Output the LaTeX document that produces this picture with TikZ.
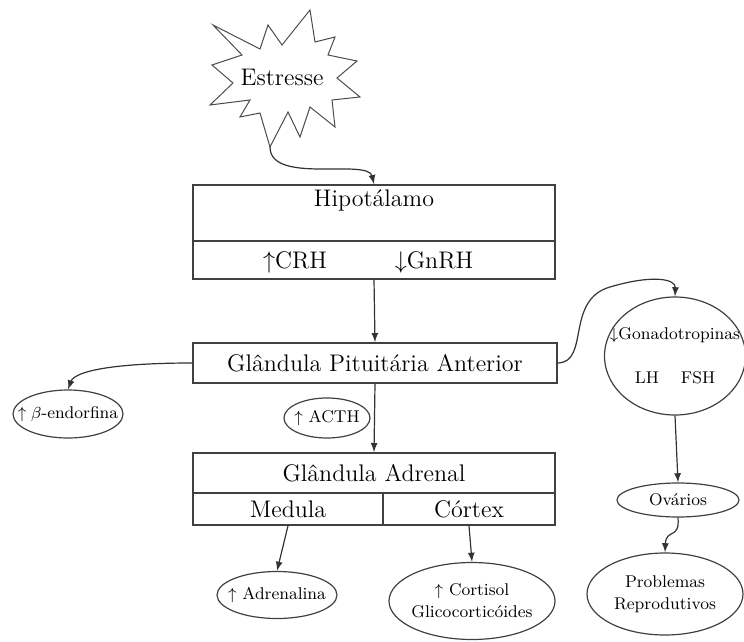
\documentclass[tikz,border=0pt]{standalone}
\usetikzlibrary{shapes.geometric,arrows}
\tikzstyle{box} = [rectangle, draw=black!75, line width=0.8pt, inner sep=0pt, font=\fontsize{12}{14}\selectfont]
\tikzstyle{big} = [font=\fontsize{12}{14}\selectfont]
\tikzstyle{blob} = [ellipse, draw=black!75, line width=0.6pt, inner xsep=-8pt, inner ysep=0pt, align=center, font=\fontsize{8.5}{11}\selectfont]
\tikzstyle{arrow} = [draw=black!80, line width=0.6pt, ->, >=latex]

\begin{document}
\begin{tikzpicture}[x=0.5pt,y=-0.5pt]
\useasboundingbox (0,0) rectangle (744,642);

% ESTRESSE
\draw[black!70, line width=0.5pt] (213,25) -- (260,49) -- (268,25) -- (282,45) -- (310,10) -- (315,42)
   -- (335,37) -- (328,55) -- (357,61) -- (337,78) -- (360,97) -- (332,100) -- (335,127)
   -- (310,107) -- (300,137) -- (288,112) -- (270,147) -- (260,113) -- (240,117) -- (250,100)
   -- (210,105) -- (233,83) -- (212,65) -- (242,55) -- cycle;
\node[big] (stress) at (282,77) {Estresse};
\coordinate (tip) at (270,147);

% HIPOTALAMO
\node[box, minimum width=181pt, minimum height=28pt] (hipo) at (374,213) {};
\node[big] (hipotxt) at (374,200) {Hipotálamo};
\node[box, minimum width=181pt, minimum height=19pt] (horm) at (374,260) {};
\node[big] (crh) at (295,262) {$\uparrow$CRH};
\node[big] (gnrh) at (434,262) {$\downarrow$GnRH};

% PITUITARIA
\node[box, minimum width=182pt, minimum height=20pt] (pit) at (375,363) {Glândula Pituitária Anterior};
\node[blob, minimum width=55pt, minimum height=24pt] (beta) at (68,414) {$\uparrow\beta$-endorfina};
\node[blob, minimum width=43pt, minimum height=20pt] (acth) at (327,418) {$\uparrow$ ACTH};

% ADRENAL
\node[box, minimum width=181pt, minimum height=20pt] (adr) at (374,473) {Glândula Adrenal};
\node[box, minimum width=95pt, minimum height=16pt] (med) at (288,509) {Medula};
\node[box, minimum width=86pt, minimum height=16pt] (cor) at (469,509) {Córtex};
\node[blob, minimum width=60pt, minimum height=23.5pt] (adrn) at (277,595) {$\uparrow$ Adrenalina};
\node[blob, minimum width=83pt, minimum height=38.5pt] (cort) at (472,601) {$\uparrow$ Cortisol\\Glicocorticóides};

% GONADOTROPINAS
\node[blob, minimum width=70.5pt, minimum height=59pt] (gon) at (675,356) {$\downarrow$Gonadotropinas\\[11pt]LH\hspace{11pt}FSH};
\node[blob, minimum width=61pt, minimum height=17pt] (ova) at (678,500) {Ovários};
\node[blob, minimum width=78pt, minimum height=41pt] (prob) at (665,594) {Problemas\\Reprodutivos};

% ARROWS
\draw[arrow] (tip) .. controls (270,185) and (368,158) .. (hipo.north);
\draw[arrow] (horm.south) -- (pit.north);
\draw[arrow] (pit.west) .. controls (120,363) and (75,370) .. (beta.north);
\draw[arrow] (pit.south) -- (adr.north);
\draw[arrow] (pit.east) .. controls (590,362) and (565,300) .. (610,287) .. controls (650,275) and (676,278) .. (gon.north);
\draw[arrow] (med.south) -- (adrn.north);
\draw[arrow] (cor.south) -- (cort.north);
\draw[arrow] (gon.south) -- (ova.north);
\draw[arrow] (ova.south) .. controls (680,540) and (666,528) .. (prob.north);
\end{tikzpicture}
\end{document}
